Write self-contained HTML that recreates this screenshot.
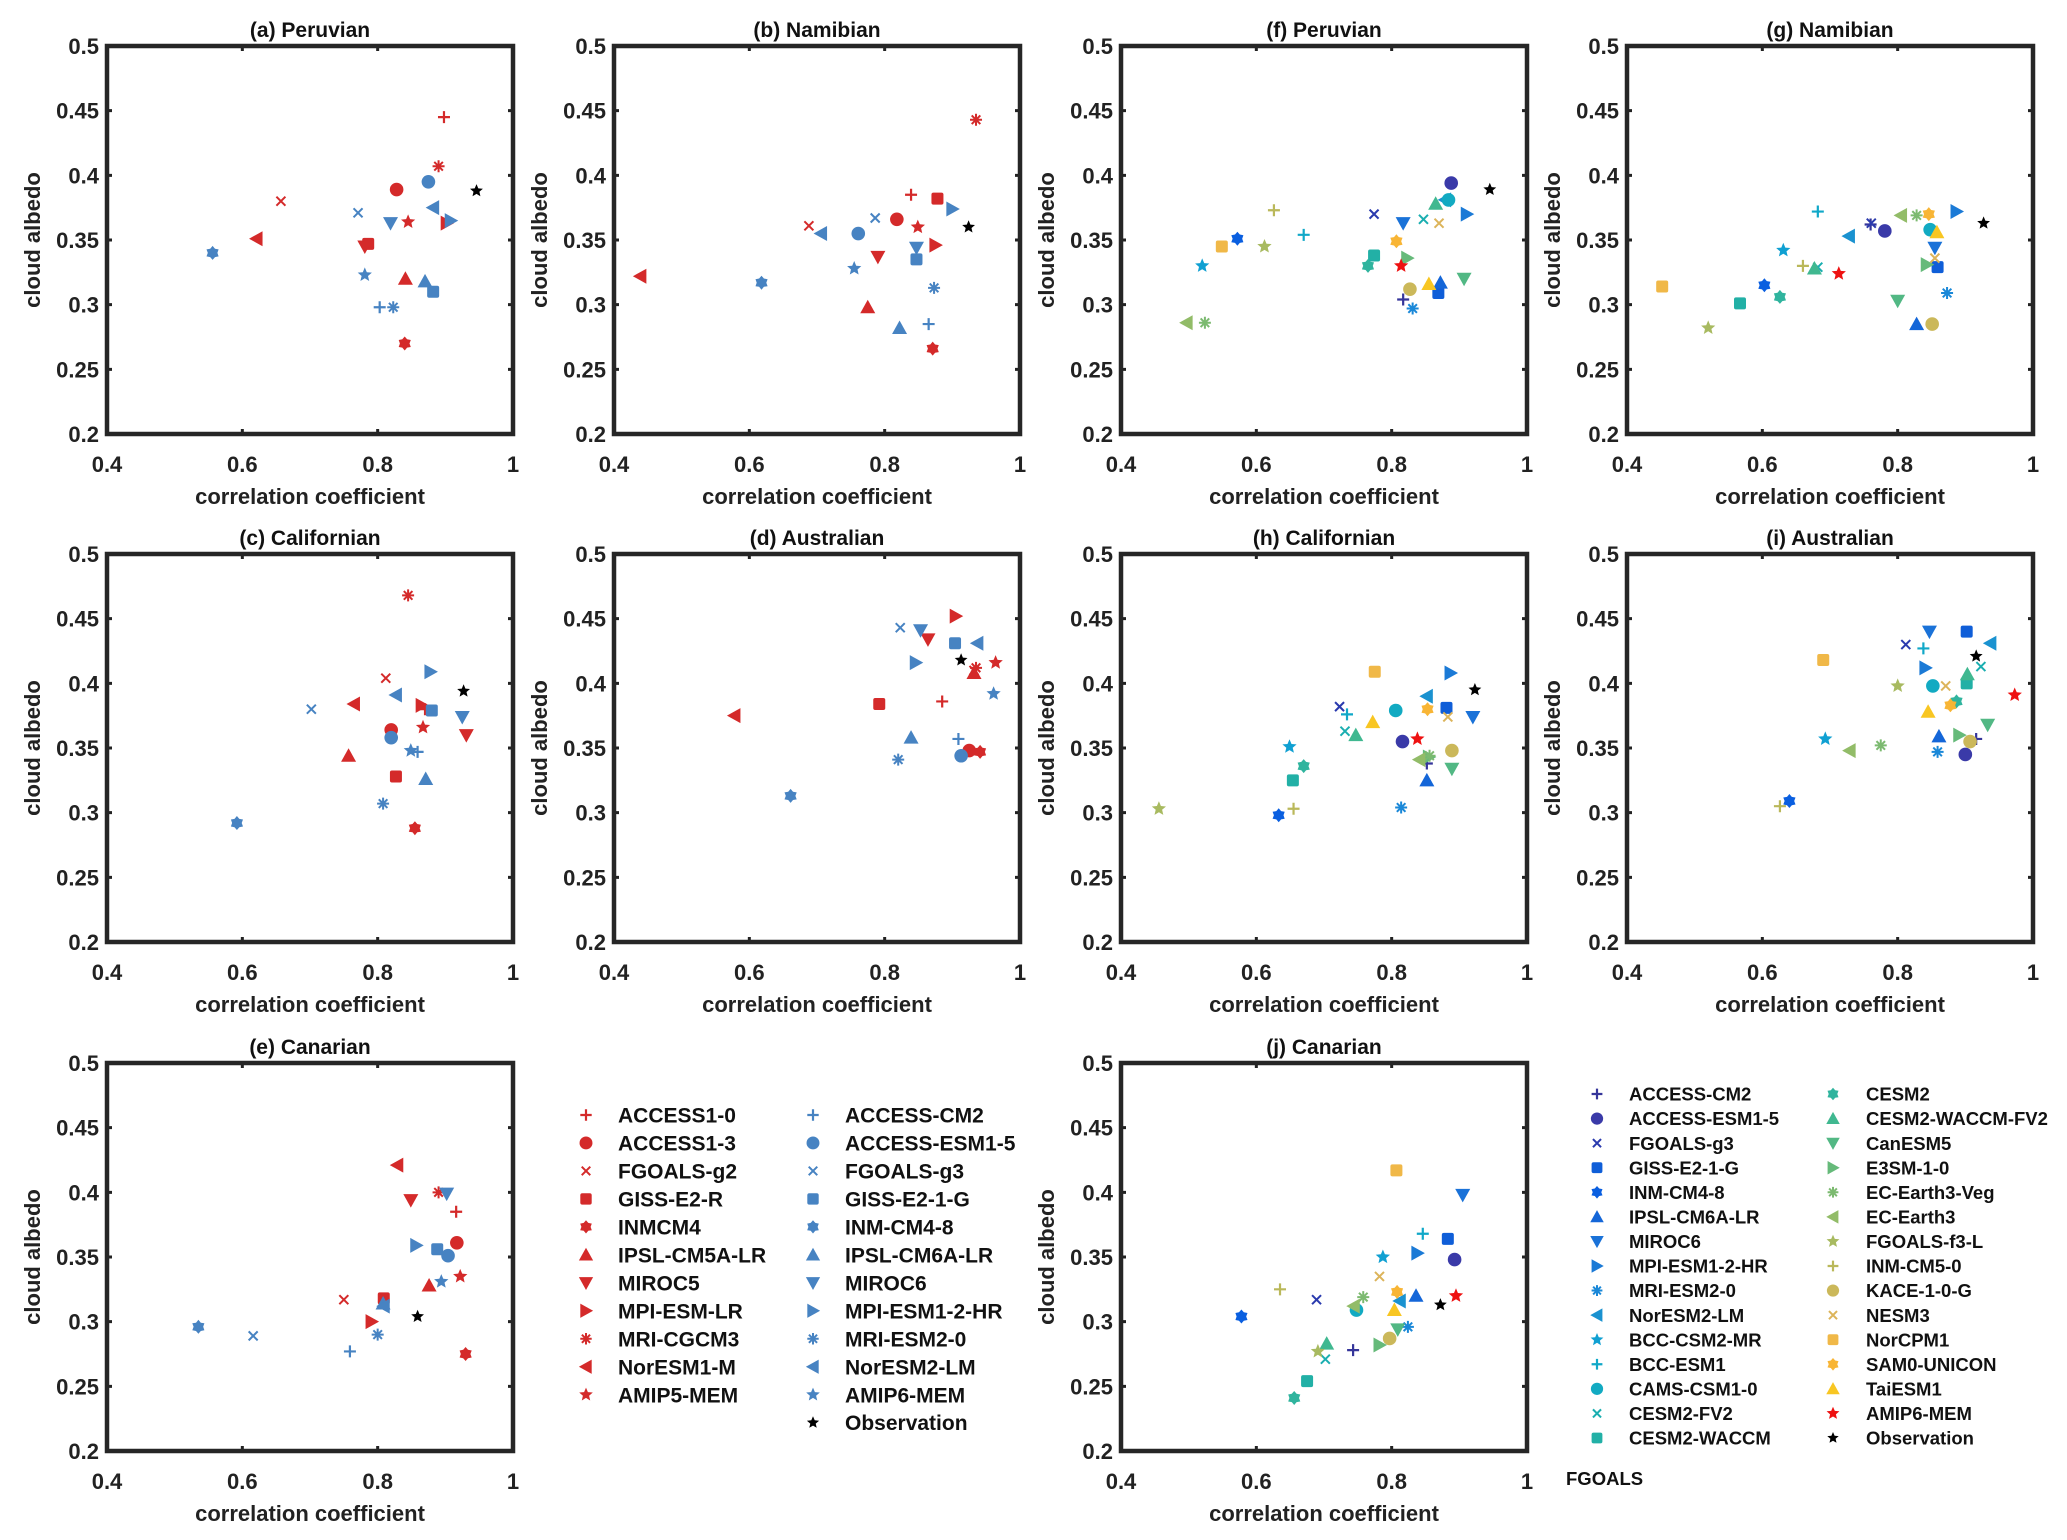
<!DOCTYPE html>
<html><head><meta charset="utf-8"><title>Cloud albedo vs correlation coefficient</title>
<style>
html,body{margin:0;padding:0;background:#fff;}
svg{display:block;font-family:"Liberation Sans",Arial,sans-serif;font-weight:bold;}
</style></head>
<body>
<svg id="fig" width="2067" height="1540" viewBox="0 0 2067 1540" xmlns="http://www.w3.org/2000/svg"></svg>
<script>
// ---------- data ----------
const cmip5Models = ["ACCESS1-0","ACCESS1-3","FGOALS-g2","GISS-E2-R","INMCM4","IPSL-CM5A-LR","MIROC5","MPI-ESM-LR","MRI-CGCM3","NorESM1-M","AMIP5-MEM"];
const cmip6BlueModels = ["ACCESS-CM2","ACCESS-ESM1-5","FGOALS-g3","GISS-E2-1-G","INM-CM4-8","IPSL-CM6A-LR","MIROC6","MPI-ESM1-2-HR","MRI-ESM2-0","NorESM2-LM","AMIP6-MEM"];
const markers11 = ["plus","circle","x","square","hex","up","down","right","asterisk","left","star"];
const cmip6Models = ["ACCESS-CM2","ACCESS-ESM1-5","FGOALS-g3","GISS-E2-1-G","INM-CM4-8","IPSL-CM6A-LR","MIROC6","MPI-ESM1-2-HR","MRI-ESM2-0","NorESM2-LM","BCC-CSM2-MR","BCC-ESM1","CAMS-CSM1-0","CESM2-FV2","CESM2-WACCM","CESM2","CESM2-WACCM-FV2","CanESM5","E3SM-1-0","EC-Earth3-Veg","EC-Earth3","FGOALS-f3-L","INM-CM5-0","KACE-1-0-G","NESM3","NorCPM1","SAM0-UNICON","TaiESM1","AMIP6-MEM"];
const markers29 = ["plus","circle","x","square","hex","up","down","right","asterisk","left","star","plus","circle","x","square","hex","up","down","right","asterisk","left","star","plus","circle","x","square","hex","up","star"];
const colors29 = ["#35359a","#3a3aa8","#2a3aae","#0f5ed8","#0a5fe0","#1466d8","#1a72d8","#1b7ad6","#1a88d8","#1a92d0","#10a0d2","#10a8c8","#12aac2","#1aaeb0","#22b0a6","#30b49e","#40b890","#52b884","#66ba7a","#7cba70","#92bc68","#a8ba60","#bab85a","#cbb85a","#dcb45a","#f0b848","#f8b535","#f8c622","#ee1111"];
const xTicks = [0.4,0.6,0.8,1];
const xTickLabels = ["0.4","0.6","0.8","1"];
const yTicks = [0.2,0.25,0.3,0.35,0.4,0.45,0.5];
const yTickLabels = ["0.2","0.25","0.3","0.35","0.4","0.45","0.5"];

// panel (a) Peruvian
const aRedX = [0.898,0.828,0.657,0.786,0.840,0.841,0.781,0.902,0.890,0.621,0.845];
const aRedY = [0.445,0.389,0.380,0.347,0.270,0.320,0.345,0.363,0.407,0.351,0.364];
const aBlueX = [0.803,0.875,0.771,0.882,0.556,0.870,0.819,0.908,0.823,0.882,0.781];
const aBlueY = [0.298,0.395,0.371,0.310,0.340,0.318,0.363,0.365,0.298,0.375,0.323];
const aObs = [0.946,0.388];
// panel (b) Namibian
const bRedX = [0.839,0.818,0.688,0.878,0.871,0.775,0.790,0.875,0.935,0.439,0.849];
const bRedY = [0.385,0.366,0.361,0.382,0.266,0.298,0.337,0.346,0.443,0.322,0.360];
const bBlueX = [0.865,0.761,0.786,0.847,0.618,0.822,0.847,0.900,0.873,0.706,0.755];
const bBlueY = [0.285,0.355,0.367,0.335,0.317,0.282,0.344,0.374,0.313,0.355,0.328];
const bObs = [0.924,0.360];
// panel (c) Californian
const cRedX = [0.870,0.820,0.812,0.827,0.855,0.757,0.931,0.865,0.845,0.765,0.867];
const cRedY = [0.380,0.364,0.404,0.328,0.288,0.344,0.360,0.383,0.468,0.384,0.366];
const cBlueX = [0.859,0.820,0.702,0.880,0.592,0.871,0.925,0.878,0.808,0.827,0.849];
const cBlueY = [0.347,0.358,0.380,0.379,0.292,0.326,0.374,0.409,0.307,0.391,0.348];
const cObs = [0.927,0.394];
// panel (d) Australian
const dRedX = [0.885,0.925,0.932,0.792,0.941,0.932,0.864,0.905,0.935,0.578,0.964];
const dRedY = [0.386,0.348,0.410,0.384,0.347,0.408,0.434,0.452,0.412,0.375,0.416];
const dBlueX = [0.909,0.913,0.823,0.904,0.661,0.839,0.853,0.846,0.820,0.937,0.961];
const dBlueY = [0.357,0.344,0.443,0.431,0.313,0.358,0.441,0.416,0.341,0.431,0.392];
const dObs = [0.913,0.418];
// panel (e) Canarian
const eRedX = [0.916,0.917,0.750,0.809,0.930,0.876,0.849,0.791,0.890,0.829,0.922];
const eRedY = [0.385,0.361,0.317,0.318,0.275,0.328,0.394,0.300,0.400,0.421,0.335];
const eBlueX = [0.759,0.904,0.616,0.888,0.535,0.808,0.902,0.857,0.800,0.809,0.894];
const eBlueY = [0.277,0.351,0.289,0.356,0.296,0.314,0.399,0.359,0.290,0.312,0.331];
const eObs = [0.859,0.304];
// panel (f) Peruvian CMIP6
const fX = [0.817,0.888,0.774,0.869,0.572,0.872,0.817,0.911,0.831,0.879,0.520,0.670,0.884,0.847,0.774,0.765,0.865,0.907,0.823,0.524,0.497,0.612,0.626,0.827,0.870,0.549,0.807,0.855,0.814];
const fY = [0.304,0.394,0.370,0.309,0.351,0.317,0.363,0.370,0.297,0.381,0.330,0.354,0.381,0.366,0.338,0.330,0.378,0.320,0.336,0.286,0.286,0.345,0.373,0.312,0.363,0.345,0.349,0.316,0.330];
const fObs = [0.945,0.389];
// panel (g) Namibian CMIP6
const gX = [0.760,0.781,0.761,0.859,0.603,0.828,0.855,0.887,0.873,0.728,0.631,0.682,0.848,0.682,0.567,0.626,0.677,0.800,0.843,0.828,0.805,0.520,0.660,0.851,0.855,0.452,0.846,0.858,0.713];
const gY = [0.362,0.357,0.363,0.329,0.315,0.285,0.344,0.372,0.309,0.353,0.342,0.372,0.358,0.329,0.301,0.306,0.328,0.303,0.331,0.369,0.369,0.282,0.330,0.285,0.336,0.314,0.370,0.356,0.324];
const gObs = [0.927,0.363];
// panel (h) Californian CMIP6
const hX = [0.852,0.816,0.723,0.881,0.633,0.852,0.920,0.887,0.814,0.852,0.649,0.734,0.806,0.731,0.654,0.670,0.747,0.889,0.855,0.856,0.841,0.456,0.655,0.889,0.883,0.775,0.853,0.772,0.838];
const hY = [0.338,0.355,0.382,0.381,0.298,0.325,0.374,0.408,0.304,0.390,0.351,0.376,0.379,0.363,0.325,0.336,0.360,0.334,0.343,0.344,0.341,0.303,0.303,0.348,0.374,0.409,0.380,0.370,0.357];
const hObs = [0.923,0.395];
// panel (i) Australian CMIP6
const iX = [0.916,0.900,0.812,0.902,0.640,0.861,0.847,0.841,0.859,0.937,0.693,0.838,0.852,0.923,0.902,0.887,0.903,0.933,0.891,0.775,0.729,0.800,0.626,0.907,0.871,0.690,0.878,0.845,0.973];
const iY = [0.357,0.345,0.430,0.440,0.309,0.359,0.440,0.412,0.347,0.431,0.357,0.427,0.398,0.413,0.400,0.386,0.407,0.368,0.360,0.352,0.348,0.398,0.305,0.355,0.398,0.418,0.383,0.378,0.391];
const iObs = [0.916,0.421];
// panel (j) Canarian CMIP6
const jX = [0.743,0.893,0.689,0.883,0.578,0.836,0.905,0.838,0.824,0.812,0.787,0.846,0.748,0.702,0.675,0.656,0.704,0.809,0.782,0.758,0.744,0.691,0.635,0.797,0.782,0.807,0.808,0.804,0.895];
const jY = [0.278,0.348,0.317,0.364,0.304,0.320,0.398,0.353,0.296,0.316,0.350,0.368,0.309,0.271,0.254,0.241,0.283,0.294,0.282,0.319,0.312,0.277,0.325,0.287,0.335,0.417,0.323,0.309,0.320];
const jObs = [0.872,0.313];

// ---------- drawing ----------
const NS = "http://www.w3.org/2000/svg";
const svg = document.getElementById("fig");
const RED = "#d42a2a", BLUE = "#4783c2";
const colLeft = [107, 614, 1121, 1627];
const rowTop = [46, 554, 1063];
const PW = 406, PH = 388;

function mk(tag, attrs, parent) {
  const e = document.createElementNS(NS, tag);
  for (const k in attrs) e.setAttribute(k, attrs[k]);
  (parent || svg).appendChild(e);
  return e;
}
function starPts(cx, cy, n, ro, ri, rot) {
  const p = [];
  for (let k = 0; k < 2 * n; k++) {
    const r = k % 2 ? ri : ro;
    const a = rot + k * Math.PI / n;
    p.push((cx + r * Math.cos(a)).toFixed(1) + "," + (cy + r * Math.sin(a)).toFixed(1));
  }
  return p.join(" ");
}
function drawMarker(g, type, cx, cy, color, scale) {
  const s = scale || 1;
  let e;
  switch (type) {
    case "plus":
      e = mk("path", {d:`M${cx-6*s},${cy}H${cx+6*s}M${cx},${cy-6*s}V${cy+6*s}`, stroke:color, "stroke-width":2.2, fill:"none"}, g); break;
    case "x":
      e = mk("path", {d:`M${cx-4.5*s},${cy-4.5*s}L${cx+4.5*s},${cy+4.5*s}M${cx-4.5*s},${cy+4.5*s}L${cx+4.5*s},${cy-4.5*s}`, stroke:color, "stroke-width":2, fill:"none"}, g); break;
    case "asterisk":
      e = mk("path", {d:`M${cx-6*s},${cy}H${cx+6*s}M${cx},${cy-6*s}V${cy+6*s}M${cx-4.3*s},${cy-4.3*s}L${cx+4.3*s},${cy+4.3*s}M${cx-4.3*s},${cy+4.3*s}L${cx+4.3*s},${cy-4.3*s}`, stroke:color, "stroke-width":2, fill:"none"}, g); break;
    case "circle":
      e = mk("circle", {cx:cx, cy:cy, r:6.8*s, fill:color}, g); break;
    case "square":
      e = mk("rect", {x:cx-6*s, y:cy-6*s, width:12*s, height:12*s, rx:2, fill:color}, g); break;
    case "hex":
      e = mk("polygon", {points:starPts(cx, cy, 6, 7*s, 4.8*s, -Math.PI/2), fill:color}, g); break;
    case "star":
      e = mk("polygon", {points:starPts(cx, cy, 5, 7.5*s, 3.4*s, -Math.PI/2), fill:color}, g); break;
    case "up":
      e = mk("polygon", {points:`${cx},${cy-7.5*s} ${cx+7.5*s},${cy+6*s} ${cx-7.5*s},${cy+6*s}`, fill:color}, g); break;
    case "down":
      e = mk("polygon", {points:`${cx},${cy+7.5*s} ${cx+7.5*s},${cy-6*s} ${cx-7.5*s},${cy-6*s}`, fill:color}, g); break;
    case "right":
      e = mk("polygon", {points:`${cx+7.5*s},${cy} ${cx-6*s},${cy-7.5*s} ${cx-6*s},${cy+7.5*s}`, fill:color}, g); break;
    case "left":
      e = mk("polygon", {points:`${cx-7.5*s},${cy} ${cx+6*s},${cy-7.5*s} ${cx+6*s},${cy+7.5*s}`, fill:color}, g); break;
  }
  return e;
}
function txt(parent, x, y, s, attrs) {
  const t = mk("text", Object.assign({x:x, y:y}, attrs), parent);
  t.textContent = s;
  return t;
}

function drawPanel(col, row, title, series, obs, key) {
  const L = colLeft[col], T = rowTop[row];
  const xs = v => L + (v - 0.4) / 0.6 * PW;
  const ys = v => T + PH - (v - 0.2) / 0.3 * PH;
  const g = mk("g", {});
  
  
  const tt = txt(g, L + PW / 2, T - 9, title, {"text-anchor":"middle", "font-size":21, fill:"#111"});
  
  
  // ticks
  xTicks.forEach((v, i) => {
    const x = xs(v);
    mk("path", {d:`M${x},${T+PH}v-5M${x},${T}v5`, stroke:"#222", "stroke-width":3}, g);
    const tl = txt(g, x, T + PH + 38, xTickLabels[i], {"text-anchor":"middle", "font-size":22, fill:"#222"});
    
    
  });
  yTicks.forEach((v, i) => {
    const y = ys(v);
    mk("path", {d:`M${L},${y}h5M${L+PW},${y}h-5`, stroke:"#222", "stroke-width":3}, g);
    const tl = txt(g, L - 8, y + 8, yTickLabels[i], {"text-anchor":"end", "font-size":22, fill:"#222"});
    
    
  });
  const box = mk("rect", {x:L, y:T, width:PW, height:PH, fill:"none", stroke:"#262626", "stroke-width":4.5}, g);
  
  
  const xl = txt(g, L + PW / 2, T + PH + 70, "correlation coefficient", {"text-anchor":"middle", "font-size":22, fill:"#222"});
  
  
  const yx = L - 67, yy = T + PH / 2;
  const yl = txt(g, yx, yy, "cloud albedo", {"text-anchor":"middle", "font-size":22, fill:"#222", transform:`rotate(-90 ${yx} ${yy})`});
  
  
  // series
  series.forEach(sr => {
    sr.x.forEach((v, i) => {
      const color = sr.colors ? sr.colors[i] : sr.color;
      const m = drawMarker(g, sr.markers[i], xs(v), ys(sr.y[i]), color);
      
      
    });
  });
  const o = drawMarker(g, "star", xs(obs[0]), ys(obs[1]), "#000", 0.9);
  
  
}

function p56(rx, ry, bx, by) {
  return [
    {x:rx, y:ry, markers:markers11, color:RED, names:cmip5Models},
    {x:bx, y:by, markers:markers11, color:BLUE, names:cmip6BlueModels}
  ];
}
function p6(x, y) {
  return [{x:x, y:y, markers:markers29, colors:colors29, names:cmip6Models}];
}
drawPanel(0, 0, "(a) Peruvian", p56(aRedX, aRedY, aBlueX, aBlueY), aObs, "a");
drawPanel(1, 0, "(b) Namibian", p56(bRedX, bRedY, bBlueX, bBlueY), bObs, "b");
drawPanel(0, 1, "(c) Californian", p56(cRedX, cRedY, cBlueX, cBlueY), cObs, "c");
drawPanel(1, 1, "(d) Australian", p56(dRedX, dRedY, dBlueX, dBlueY), dObs, "d");
drawPanel(0, 2, "(e) Canarian", p56(eRedX, eRedY, eBlueX, eBlueY), eObs, "e");
drawPanel(2, 0, "(f) Peruvian", p6(fX, fY), fObs, "f");
drawPanel(3, 0, "(g) Namibian", p6(gX, gY), gObs, "g");
drawPanel(2, 1, "(h) Californian", p6(hX, hY), hObs, "h");
drawPanel(3, 1, "(i) Australian", p6(iX, iY), iObs, "i");
drawPanel(2, 2, "(j) Canarian", p6(jX, jY), jObs, "j");

// ---------- legend 1 (CMIP5 / CMIP6) ----------
const lg1 = mk("g", {});


function legendEntry(parent, mx, tx, y, type, color, label, fs, sc) {
  const g = mk("g", {}, parent);
  
  
  drawMarker(g, type, mx, y, color, sc);
  txt(g, tx, y + fs * 0.36, label, {"font-size":fs, fill:"#111"});
}
cmip5Models.forEach((n, i) => legendEntry(lg1, 586, 618, 1115 + i * 27.97, markers11[i], RED, n, 21, 0.95));
cmip6BlueModels.forEach((n, i) => legendEntry(lg1, 813, 845, 1115 + i * 27.97, markers11[i], BLUE, n, 21, 0.95));
legendEntry(lg1, 813, 845, 1115 + 11 * 27.97, "star", "#000", "Observation", 21, 0.85);

// ---------- legend 2 (CMIP6 colored) ----------
const lg2 = mk("g", {});


cmip6Models.forEach((n, i) => {
  const c = i < 15 ? 0 : 1, r = i < 15 ? i : i - 15;
  legendEntry(lg2, c ? 1833 : 1597, c ? 1866 : 1629, 1094 + r * 24.57, markers29[i], colors29[i], n, 18.5, 0.9);
});
legendEntry(lg2, 1833, 1866, 1094 + 14 * 24.57, "star", "#000", "Observation", 18.5, 0.8);
const fg = txt(svg, 1566, 1485, "FGOALS", {"font-size":18.5, fill:"#111"});


</script>
</body></html>
